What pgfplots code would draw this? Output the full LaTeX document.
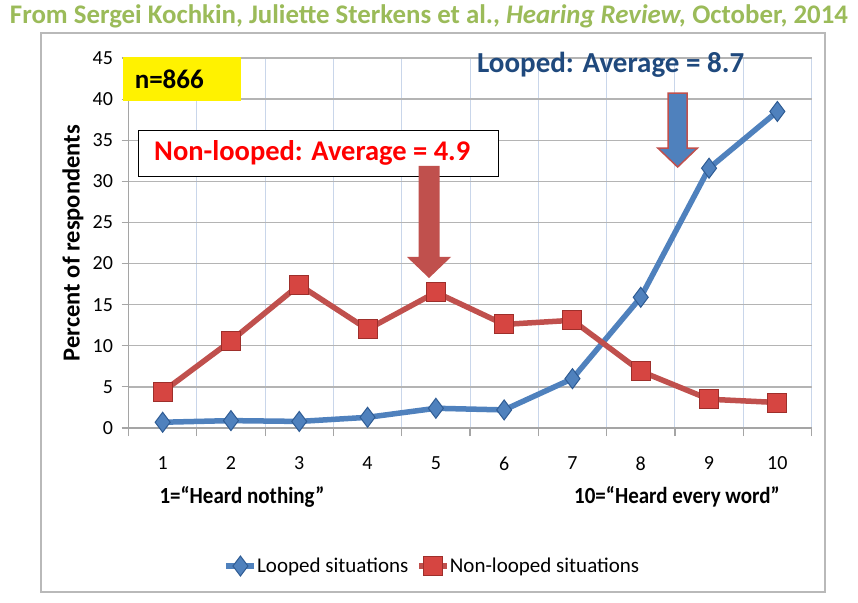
\documentclass[border=0pt]{standalone}
\usepackage{fontspec}
\setmainfont{Carlito}
\usepackage{pgfplots}
\pgfplotsset{compat=1.18}
\definecolor{lblue}{HTML}{4F81BD}
\definecolor{dblue}{HTML}{2F5C94}
\definecolor{lred}{HTML}{C0504D}
\definecolor{mred}{HTML}{D64541}
\definecolor{dred}{HTML}{9E2F2B}
\definecolor{titlegreen}{HTML}{9BBB59}
\definecolor{navy}{HTML}{1F497D}
\definecolor{vgrid}{HTML}{C9D6EA}
\definecolor{hgrid}{HTML}{B4B4B4}
\begin{document}
\begin{tikzpicture}
\path[use as bounding box] (0pt,0pt) rectangle (858pt,-602pt);
\fill[white] (0pt,0pt) rectangle (858pt,-602pt);
\draw[gray!55, line width=1.2pt] (41pt,-33pt) rectangle (825pt,-592pt);
\node[inner sep=0pt, font=\fontsize{27}{29}\selectfont\bfseries, text=titlegreen] at (429pt,-16pt)
  {\resizebox{838pt}{!}{From Sergei Kochkin, Juliette Sterkens et al., \textit{Hearing Review,} October, 2014}};
\begin{axis}[
  at={(128.5pt,-428pt)}, anchor=south west,
  scale only axis, width=683pt, height=370pt,
  xmin=0.5, xmax=10.5, ymin=0, ymax=45,
  axis x line*=bottom, axis y line*=left,
  axis line style={hgrid!120, line width=1.2pt, -},
  xtick={1,...,10},
  minor xtick={0.5,1.5,...,10.5},
  ytick={0,5,...,45},
  xminorgrids=true, ymajorgrids=true,
  minor grid style={vgrid, line width=1pt},
  major grid style={hgrid, line width=1.4pt},
  major x tick style={draw=none},
  minor x tick style={hgrid!120, line width=1.2pt},
  y tick style={hgrid!120, line width=1.2pt},
  tick align=outside,
  major tick length=7pt, minor tick length=8pt,
  tick label style={font=\fontsize{20}{22}\selectfont},
  xticklabel style={yshift=-18pt},
  yticklabel style={xshift=-5pt},
  /pgf/number format/assume math mode=true,
  clip=false,
  legend columns=2,
  legend style={draw=none, fill=none, at={(0.445,-0.373)}, anchor=center,
    font=\fontsize{21}{23}\selectfont, /tikz/every even column/.append style={column sep=6pt},
    /tikz/every odd column/.append style={column sep=-2pt}},
  legend image code/.code={
    \draw[#1, mark=none] (0pt,0pt) -- (28pt,0pt);
    \draw[#1, line width=1pt, only marks] plot coordinates {(14pt,0pt)};
  },
]
\addplot[lblue, line width=5.5pt, mark=diamond*, mark size=10pt,
  mark options={fill=lblue, draw=dblue, line width=1pt}]
  coordinates {(1,0.7) (2,0.9) (3,0.8) (4,1.3) (5,2.4) (6,2.2) (7,6.0) (8,15.9) (9,31.6) (10,38.5)};
\addlegendentry{Looped situations}
\addplot[lred, line width=5.5pt, mark=square*, mark size=9.5pt,
  mark options={fill=mred, draw=dred, line width=1pt}]
  coordinates {(1,4.4) (2,10.6) (3,17.4) (4,12.0) (5,16.5) (6,12.6) (7,13.1) (8,6.9) (9,3.5) (10,3.1)};
\addlegendentry{Non-looped situations}
% annotation boxes
\fill[yellow] (axis cs:0.42,45.1) rectangle (axis cs:2.15,39.75);
\node[anchor=west, font=\fontsize{27}{29}\selectfont\bfseries] at (axis cs:0.54,42.4) {n=866};
\draw[black, fill=white, line width=1pt] (axis cs:0.64,36.2) rectangle (axis cs:5.92,30.6);
\node[font=\fontsize{28.5}{30}\selectfont\bfseries, text=red] at (axis cs:3.19,33.4) {Non-looped: Average = 4.9};
\node[font=\fontsize{29}{31}\selectfont\bfseries, text=navy] at (axis cs:7.56,44.2) {Looped: Average = 8.7};
% arrows
\fill[lred] (axis cs:4.746,31.87) -- (axis cs:5.054,31.87) -- (axis cs:5.054,20.8) -- (axis cs:5.222,20.8)
  -- (axis cs:4.9,18.24) -- (axis cs:4.578,20.8) -- (axis cs:4.746,20.8) -- cycle;
\filldraw[fill=lblue, draw=lred, line width=1.5pt] (axis cs:8.40,40.74) -- (axis cs:8.68,40.74) -- (axis cs:8.68,34.05) -- (axis cs:8.83,34.05)
  -- (axis cs:8.54,31.74) -- (axis cs:8.25,34.05) -- (axis cs:8.40,34.05) -- cycle;
\end{axis}
\node[rotate=90, font=\fontsize{24.5}{26}\selectfont\bfseries] at (73pt,-243pt) {Percent of respondents};
\node[font=\fontsize{21}{23}\selectfont\bfseries] at (242pt,-497pt) {\scalebox{1}[1.1]{1=“Heard nothing”}};
\node[font=\fontsize{21}{23}\selectfont\bfseries] at (677pt,-497pt) {\scalebox{1}[1.1]{10=“Heard every word”}};
\end{tikzpicture}
\end{document}
